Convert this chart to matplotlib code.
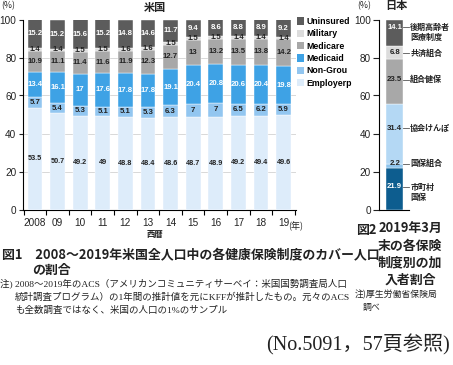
"""US vs Japan health insurance coverage shares, stacked bars."""

import matplotlib.pyplot as plt
from matplotlib.patches import Patch

plt.switch_backend("Agg")
plt.rcParams["font.family"] = ["Liberation Sans", "Noto Sans CJK JP", "DejaVu Sans"]

# --- data -----------------------------------------------------------------
years = ["2008", "09", "10", "11", "12", "13", "14", "15", "16", "17", "18", "19"]
employer = [53.5, 50.7, 49.2, 49, 48.8, 48.4, 48.6, 48.7, 48.9, 49.2, 49.4, 49.6]
non_group = [5.7, 5.4, 5.3, 5.1, 5.1, 5.3, 6.3, 7, 7, 6.5, 6.2, 5.9]
medicaid = [13.4, 16.1, 17, 17.6, 17.8, 17.8, 19.1, 20.4, 20.8, 20.6, 20.4, 19.8]
medicare = [10.9, 11.1, 11.4, 11.6, 11.9, 12.3, 12.7, 13, 13.2, 13.5, 13.8, 14.2]
military = [1.4, 1.4, 1.5, 1.5, 1.6, 1.6, 1.5, 1.5, 1.5, 1.4, 1.4, 1.4]
uninsured = [15.2, 15.2, 15.6, 15.2, 14.8, 14.6, 11.7, 9.4, 8.6, 8.8, 8.9, 9.2]
us_names = ["Employerp", "Non-Grou", "Medicaid", "Medicare", "Military", "Uninsured"]

jp_labels = ["市町村\n国保", "国保組合", "協会けんぽ", "組合健保", "共済組合", "後期高齢者\n医療制度"]
jp_values = [21.9, 2.2, 31.4, 23.5, 6.8, 14.1]

# --- style ----------------------------------------------------------------
US_COLORS = ["#ddecfa", "#92c6f0", "#3ea2e5", "#a8a8a8", "#dcdcdc", "#5c5c5c"]
US_TEXT = ["#222222", "#222222", "white", "#222222", "#222222", "white"]
JP_COLORS = ["#0d5d8f", "#8fc5ee", "#b4d8f4", "#a8a8a8", "#dcdcdc", "#5c5c5c"]
JP_TEXT = ["white", "#222222", "#222222", "#222222", "#222222", "white"]
JP_SHIFT = [0.9, 1.0, 3.0, 1.0, 0.0, 3.0]
INK = "#222222"
GRID = "#d8d8d8"
NARROW = ["Liberation Sans Narrow", "Liberation Sans", "DejaVu Sans"]
JP = ["Noto Sans CJK JP", "DejaVu Sans"]

W, H = 453, 365
fig = plt.figure(figsize=(W / 100, H / 100), dpi=100)


def fx(px):
    return px / W


def fy(py):
    return 1 - py / H


# --- US chart -------------------------------------------------------------
ax = fig.add_axes([fx(22.7), fy(209.5), fx(273.3), 190 / H])
x = list(range(len(years)))
bottom = [0.0] * len(years)
series = [employer, non_group, medicaid, medicare, military, uninsured]
for vals, col, tcol, name in zip(series, US_COLORS, US_TEXT, us_names):
    ax.bar(x, vals, bottom=bottom, width=0.65, color=col, edgecolor="white",
           linewidth=0.3, zorder=3, label=name)
    size = 5.2 if name == "Employerp" else 5.6
    for xi, v, b in zip(x, vals, bottom):
        ax.text(xi, b + v / 2, f"{v:g}", ha="center", va="center", fontsize=size,
                color=tcol, family=NARROW, fontweight="bold", zorder=4)
    bottom = [b + v for b, v in zip(bottom, vals)]

ax.set_xlim(-0.544, 11.55)
ax.set_ylim(0, 100)
ax.set_yticks([0, 20, 40, 60, 80, 100])
for g in (20, 40, 60, 80):
    ax.axhline(g, color=GRID, linewidth=0.7, zorder=1)
ax.set_xticks(x, years)
ax.set_xticks([i - 0.5 for i in range(len(years) + 1)], minor=True)
ax.tick_params(axis="x", which="major", length=0, pad=6, labelsize=7.2, colors=INK)
ax.tick_params(axis="x", which="minor", length=3.5, width=0.8, direction="out")
ax.tick_params(axis="y", length=3, width=0.8, pad=1.5, labelsize=7.2, colors=INK)
ax.spines[["top", "right"]].set_visible(False)
for s in ("left", "bottom"):
    ax.spines[s].set_linewidth(0.8)
ax.text(11.22, -8.8, "(年)", fontsize=6.5, family=JP, ha="left", va="center",
        color=INK)

handles = [Patch(facecolor=c, edgecolor="none") for c in US_COLORS[::-1]]
fig.legend(handles, us_names[::-1], loc="upper left",
           bbox_to_anchor=(fx(297), fy(17)), frameon=False,
           handlelength=0.75, handleheight=0.9, handletextpad=0.35,
           labelspacing=0.38, borderpad=0, borderaxespad=0,
           prop={"family": NARROW, "size": 6.3, "weight": "bold"})

fig.text(fx(155), fy(7), "米国", ha="center", va="center", fontsize=8,
         family=JP, fontweight="bold", color=INK)
fig.text(fx(1), fy(6), "(%)", ha="left", va="center", fontsize=6.3, family=JP,
         color=INK)
fig.text(fx(155), fy(235), "西暦", ha="center", va="center", fontsize=6,
         family=JP, fontweight="bold", color=INK)

# --- Japan chart ----------------------------------------------------------
ax2 = fig.add_axes([fx(379.3), fy(209.5), fx(29.7), 190 / H])
b = 0.0
for v, lab, col, tcol, sh in zip(jp_values, jp_labels, JP_COLORS, JP_TEXT, JP_SHIFT):
    ax2.bar(0.517, v, bottom=b, width=0.583, color=col, edgecolor="white",
            linewidth=0.3, zorder=3)
    yl = b + v / 2 + sh
    ax2.text(0.517, yl, f"{v:g}", ha="center", va="center", fontsize=5.6,
             family=NARROW, fontweight="bold", color=tcol, zorder=4)
    ax2.plot([0.81, 1.0], [yl, yl], color="#555555", linewidth=0.6,
             clip_on=False, zorder=4)
    ax2.annotate(lab, (1.04, yl), xytext=(0, 3.2 if "\n" in lab else 0),
                 textcoords="offset points", ha="left",
                 va="top" if "\n" in lab else "center", fontsize=5.8,
                 family=JP, fontweight="bold", color=INK, linespacing=1.15,
                 annotation_clip=False)
    b += v
ax2.set_xlim(0, 1)
ax2.set_ylim(0, 100)
ax2.set_xticks([])
ax2.set_yticks([0, 20, 40, 60, 80, 100])
ax2.tick_params(axis="y", length=4.5, width=0.8, pad=1.5, labelsize=7.2,
                colors=INK)
ax2.spines[["top", "right"]].set_visible(False)
for s in ("left", "bottom"):
    ax2.spines[s].set_linewidth(0.8)

fig.text(fx(396), fy(6), "日本", ha="center", va="center", fontsize=8,
         family=JP, fontweight="bold", color=INK)
fig.text(fx(357), fy(6), "(%)", ha="left", va="center", fontsize=6.3,
         family=JP, color=INK)

# --- captions -------------------------------------------------------------
fig.text(fx(2), fy(255),
         "図1　2008～2019年米国全人口中の各健康保険制度のカバー人口",
         ha="left", va="center", fontsize=9.3, family=JP, fontweight="bold",
         color=INK)
fig.text(fx(32), fy(270), "の割合", ha="left", va="center", fontsize=9.3,
         family=JP, fontweight="bold", color=INK)
note_font = ["Liberation Serif", "Noto Sans CJK JP"]
fig.text(fx(0), fy(283),
         "注) 2008～2019年のACS（アメリカンコミュニティサーベイ：米国国勢調査局人口",
         ha="left", va="center", fontsize=6.8, family=note_font, color=INK)
fig.text(fx(15), fy(297),
         "統計調査プログラム）の1年間の推計値を元にKFFが推計したもの。元々のACS",
         ha="left", va="center", fontsize=6.8, family=note_font, color=INK)
fig.text(fx(15), fy(310), "も全数調査ではなく、米国の人口の1%のサンプル",
         ha="left", va="center", fontsize=6.8, family=note_font, color=INK)

fig.text(fx(356), fy(230), "図2", ha="left", va="center", fontsize=9.3,
         family=JP, fontweight="bold", color=INK)
fig.text(fx(410), fy(254), "2019年3月\n末の各保険\n制度別の加\n入者割合",
         ha="center", va="center", fontsize=9.3, family=JP, fontweight="bold",
         color=INK, linespacing=1.25, multialignment="center")
fig.text(fx(355), fy(295), "注)厚生労働省保険局", ha="left", va="center",
         fontsize=6.4, family=JP, color=INK)
fig.text(fx(363), fy(307), "調べ", ha="left", va="center", fontsize=6.4,
         family=JP, color=INK)

fig.text(fx(450), fy(345), "(No.5091，57頁参照)", ha="right", va="center",
         fontsize=14.5, family=["Liberation Serif", "Noto Sans CJK JP"],
         color=INK)

fig.savefig("out.png", dpi=100)
